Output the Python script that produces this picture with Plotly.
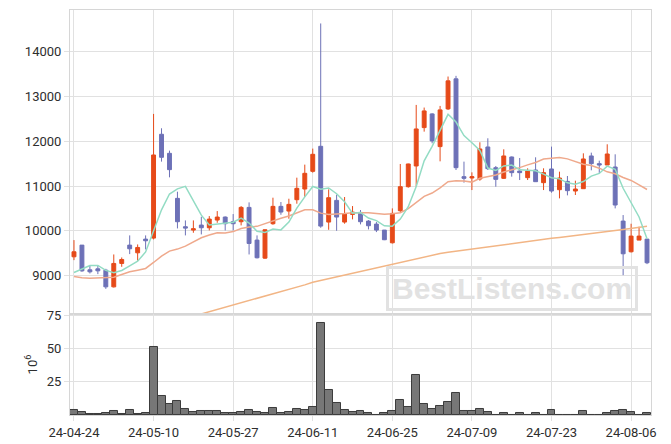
import plotly.graph_objects as go
import pandas as pd

dates = [
    "2024-04-24", "2024-04-25", "2024-04-26", "2024-04-29", "2024-04-30",
    "2024-05-02", "2024-05-03", "2024-05-07", "2024-05-08", "2024-05-09", "2024-05-10",
    "2024-05-13", "2024-05-14", "2024-05-16", "2024-05-17", "2024-05-20", "2024-05-21",
    "2024-05-22", "2024-05-23", "2024-05-24", "2024-05-27", "2024-05-28", "2024-05-29",
    "2024-05-30", "2024-05-31",
    "2024-06-03", "2024-06-04", "2024-06-05", "2024-06-07", "2024-06-10", "2024-06-11",
    "2024-06-12", "2024-06-13", "2024-06-14", "2024-06-17", "2024-06-18", "2024-06-19",
    "2024-06-20", "2024-06-21", "2024-06-24", "2024-06-25", "2024-06-26", "2024-06-27",
    "2024-06-28",
    "2024-07-01", "2024-07-02", "2024-07-03", "2024-07-04", "2024-07-05", "2024-07-08",
    "2024-07-09", "2024-07-10", "2024-07-11", "2024-07-12", "2024-07-15", "2024-07-16",
    "2024-07-17", "2024-07-18", "2024-07-19", "2024-07-22", "2024-07-23", "2024-07-24",
    "2024-07-25", "2024-07-26", "2024-07-29", "2024-07-30", "2024-07-31",
    "2024-08-01", "2024-08-02", "2024-08-05", "2024-08-06", "2024-08-07", "2024-08-08",
]

opens = [9418, 9679, 9127, 9149, 9119, 8746, 9269, 9679, 9507, 9813,
         9836, 12157, 11731, 10724, 10090, 10015, 10127, 10067, 10239, 10306,
         10202, 10202, 10522, 9791, 9388, 10157, 10545, 10440, 10694, 10933,
         11328, 11888, 10194, 10679, 10194, 10366, 10410, 10216, 10149, 10015,
         9731, 10448, 10985, 11448, 12306, 12612, 11881, 12724, 13396, 11209,
         11179, 11157, 11873, 11410, 11172, 11649, 11336, 11187, 11358, 11075,
         11381, 10918, 11104, 10888, 10940, 11672, 11500, 11470, 11425, 10216,
         9530, 9791, 9813]
highs = [9791, 9679, 9231, 9231, 9149, 9470, 9403, 9896, 9694, 9896,
         12612, 12291, 11791, 10873, 10231, 10231, 10313, 10328, 10440, 10320,
         10373, 10552, 10634, 9896, 10030, 10739, 10642, 10716, 11187, 11478,
         11836, 14634, 10925, 10806, 10754, 10552, 10463, 10239, 10194, 10015,
         10500, 11493, 11500, 12813, 12754, 12627, 12791, 13448, 13463, 11545,
         11306, 11978, 12067, 11448, 11821, 11660, 11627, 11396, 11642, 11396,
         11881, 11321, 11224, 11119, 11731, 11746, 11567, 11933, 11709, 10351,
         10157, 10090, 9813]
lows = [9343, 9082, 9045, 9030, 8701, 8731, 9194, 9478, 9328, 9582,
        9806, 11545, 11194, 10052, 9896, 9955, 9918, 10007, 10179, 10007,
        10007, 10119, 9470, 9381, 9373, 10134, 10358, 10269, 10604, 10754,
        11299, 10067, 10022, 10000, 10157, 10254, 10142, 10030, 9970, 9791,
        9716, 10410, 10963, 10985, 12216, 11955, 11552, 12700, 11358, 11075,
        10910, 11119, 11358, 10985, 11157, 11209, 11134, 11134, 11097, 10910,
        10851, 10724, 10791, 10799, 10940, 11351, 11284, 11470, 10500, 9007,
        9515, 9791, 9254]
closes = [9530, 9104, 9082, 9104, 8746, 9269, 9358, 9597, 9627, 9776,
          11694, 11642, 11366, 10202, 10060, 10045, 10067, 10261, 10306, 10157,
          10157, 10522, 9716, 9396, 10022, 10545, 10418, 10590, 10948, 11284,
          11709, 10104, 10739, 10306, 10381, 10418, 10202, 10112, 10015, 9799,
          10388, 10985, 11493, 12276, 12679, 12008, 12702, 13351, 11410, 11172,
          11209, 11828, 11388, 11149, 11672, 11299, 11299, 11336, 11097, 11299,
          10888, 11179, 10896, 10933, 11605, 11500, 11470, 11716, 10575, 9485,
          9881, 9881, 9284]
volumes = [3.8, 2.0, 0.8, 0.8, 1.3, 2.8, 0.8, 3.5, 0.8, 1.3,
           51.3, 14.1, 8.3, 10.3, 4.5, 2.0, 2.8, 2.8, 2.8, 1.3,
           1.3, 2.0, 3.5, 2.0, 1.3, 5.0, 1.3, 2.0, 4.5, 3.5,
           5.8, 69.4, 18.6, 8.8, 3.5, 2.0, 2.8, 1.3, 0.3, 1.3,
           2.8, 11.4, 5.8, 30.0, 8.0, 4.3, 6.6, 9.6, 16.4, 3.0,
           3.0, 4.3, 2.0, 0.3, 1.3, 0.3, 1.3, 0.3, 1.3, 0.3,
           3.5, 0.3, 0.3, 0.3, 2.8, 0.3, 0.3, 1.3, 2.8, 3.5,
           2.0, 0.3, 1.3]

# moving averages: first values depend on earlier (unseen) data
ma5_head = [9067, 9149, 9224, 9224]
ma20_head = [8978, 8948, 8940, 8948, 8955, 8963, 9022, 9082, 9119, 9157,
             9291, 9433, 9545, 9590, 9657, 9754, 9843, 9903, 9955]
ma_long = [None] * 14 + [
    8040, 8090, 8142, 8195, 8245, 8290, 8340, 8385, 8430, 8480,
    8530, 8580, 8630, 8680, 8730, 8790, 8850, 8890, 8935, 8975,
    9020, 9060, 9100, 9140, 9180, 9220, 9265, 9300, 9340, 9380,
    9420, 9455, 9490, 9520, 9545, 9570, 9597, 9620, 9645, 9670,
    9690, 9715, 9740, 9760, 9785, 9810, 9830, 9850, 9870, 9890,
    9910, 9930, 9955, 9980, 10005, 10030, 10055, 10080, 10100]

price_ticks = [9000, 10000, 11000, 12000, 13000, 14000]
volume_ticks = [25, 50, 75]
tick_dates = dates[::10]
tick_text = [d[2:] for d in tick_dates]

s = pd.Series(closes, dtype=float)
ma5 = ma5_head + s.rolling(5).mean().tolist()[4:]
ma20 = ma20_head + s.rolling(20).mean().tolist()[19:]

INC = "#e64a19"
DEC = "#6d71b7"
GRID = "#e1e1e1"
FRAME = "#d6d6d6"
FONT = dict(family="Roboto", size=13, color="#2e2e2e")

fig = go.Figure()
fig.add_trace(go.Candlestick(
    x=dates, open=opens, high=highs, low=lows, close=closes,
    increasing=dict(line=dict(color=INC, width=1), fillcolor=INC),
    decreasing=dict(line=dict(color=DEC, width=1), fillcolor=DEC),
    whiskerwidth=0, xaxis="x", yaxis="y", hoverinfo="skip", name="price"))
fig.add_trace(go.Scatter(x=dates, y=ma_long, mode="lines",
                         line=dict(color="#f2b585", width=1.5),
                         xaxis="x", yaxis="y", hoverinfo="skip"))
fig.add_trace(go.Scatter(x=dates, y=ma20, mode="lines",
                         line=dict(color="#efa98c", width=1.5),
                         xaxis="x", yaxis="y", hoverinfo="skip"))
fig.add_trace(go.Scatter(x=dates, y=ma5, mode="lines",
                         line=dict(color="#93dcc4", width=1.5),
                         xaxis="x", yaxis="y", hoverinfo="skip"))
fig.add_trace(go.Bar(x=dates, y=volumes,
                     marker=dict(color="#777777", line=dict(color="#3c3c3c", width=1)),
                     xaxis="x2", yaxis="y2", hoverinfo="skip"))

xcommon = dict(type="category", categoryorder="array", categoryarray=dates,
               range=[-0.5, 72.5], tickvals=tick_dates, ticktext=tick_text,
               showgrid=True, gridcolor=GRID, gridwidth=1,
               showline=True, linecolor=FRAME, mirror=True,
               ticks="outside", ticklen=5, tickcolor=GRID, zeroline=False,
               automargin=False)

fig.update_layout(
    width=671, height=444,
    margin=dict(l=70, r=20, t=10, b=29),
    paper_bgcolor="white", plot_bgcolor="white",
    showlegend=False, font=FONT, bargap=0,
    xaxis=dict(xcommon, anchor="y", showticklabels=False,
               rangeslider=dict(visible=False)),
    xaxis2=dict(xcommon, anchor="y2", matches="x", showticklabels=True),
    yaxis=dict(domain=[0.2506, 1.0], range=[8150, 14935],
               tickvals=price_ticks, tickformat="d", automargin=False,
               showgrid=True, gridcolor=GRID, showline=True, linecolor=FRAME,
               mirror=True, ticks="outside", ticklen=5, tickcolor=GRID,
               zeroline=False),
    yaxis2=dict(domain=[0.0, 0.2494], range=[0, 76],
                tickvals=volume_ticks, automargin=False,
                title=dict(text="10<sup>6</sup>", font=FONT, standoff=6),
                showgrid=True, gridcolor=GRID, showline=True, linecolor=FRAME,
                mirror=True, ticks="outside", ticklen=5, tickcolor=GRID,
                zeroline=False),
    annotations=[dict(
        text="<b>BestListens.com</b>", xref="paper", yref="paper",
        x=0.760, y=0.312, xanchor="center", yanchor="middle", showarrow=False,
        font=dict(family="Liberation Sans", size=30, color="#e2e2e2"),
        bordercolor="#e2e2e2", borderwidth=3, borderpad=3)],
)

fig.write_html("out.html", config={"displayModeBar": False},
               post_script="document.body.style.margin='0';document.body.style.overflow='hidden';")
